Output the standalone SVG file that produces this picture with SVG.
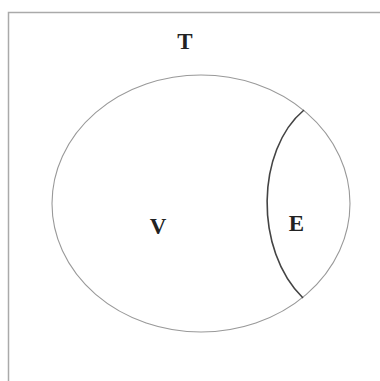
<svg xmlns="http://www.w3.org/2000/svg" width="380" height="381" viewBox="0 0 380 381">
<style>
.lbl{font-family:"Liberation Serif","Times New Roman",serif;font-weight:bold;font-size:23px;fill:#222;text-anchor:middle}
</style>
<rect width="380" height="381" fill="#fff"/>
<path d="M8.5,381 V12.5 H380" fill="none" stroke="#aaa" stroke-width="1.5"/>
<g id="T">
<ellipse cx="201" cy="203.5" rx="149" ry="128.5" fill="none" stroke="#999" stroke-width="1.1"/>
<text class="lbl" x="185" y="49">T</text>
</g>
<g id="V">
<text class="lbl" x="158" y="234">V</text>
</g>
<g id="E">
<path d="M304,110 C256,150 254,250 303,298" fill="none" stroke="#444" stroke-width="1.6"/>
<text class="lbl" x="296.5" y="231">E</text>
</g>
</svg>
